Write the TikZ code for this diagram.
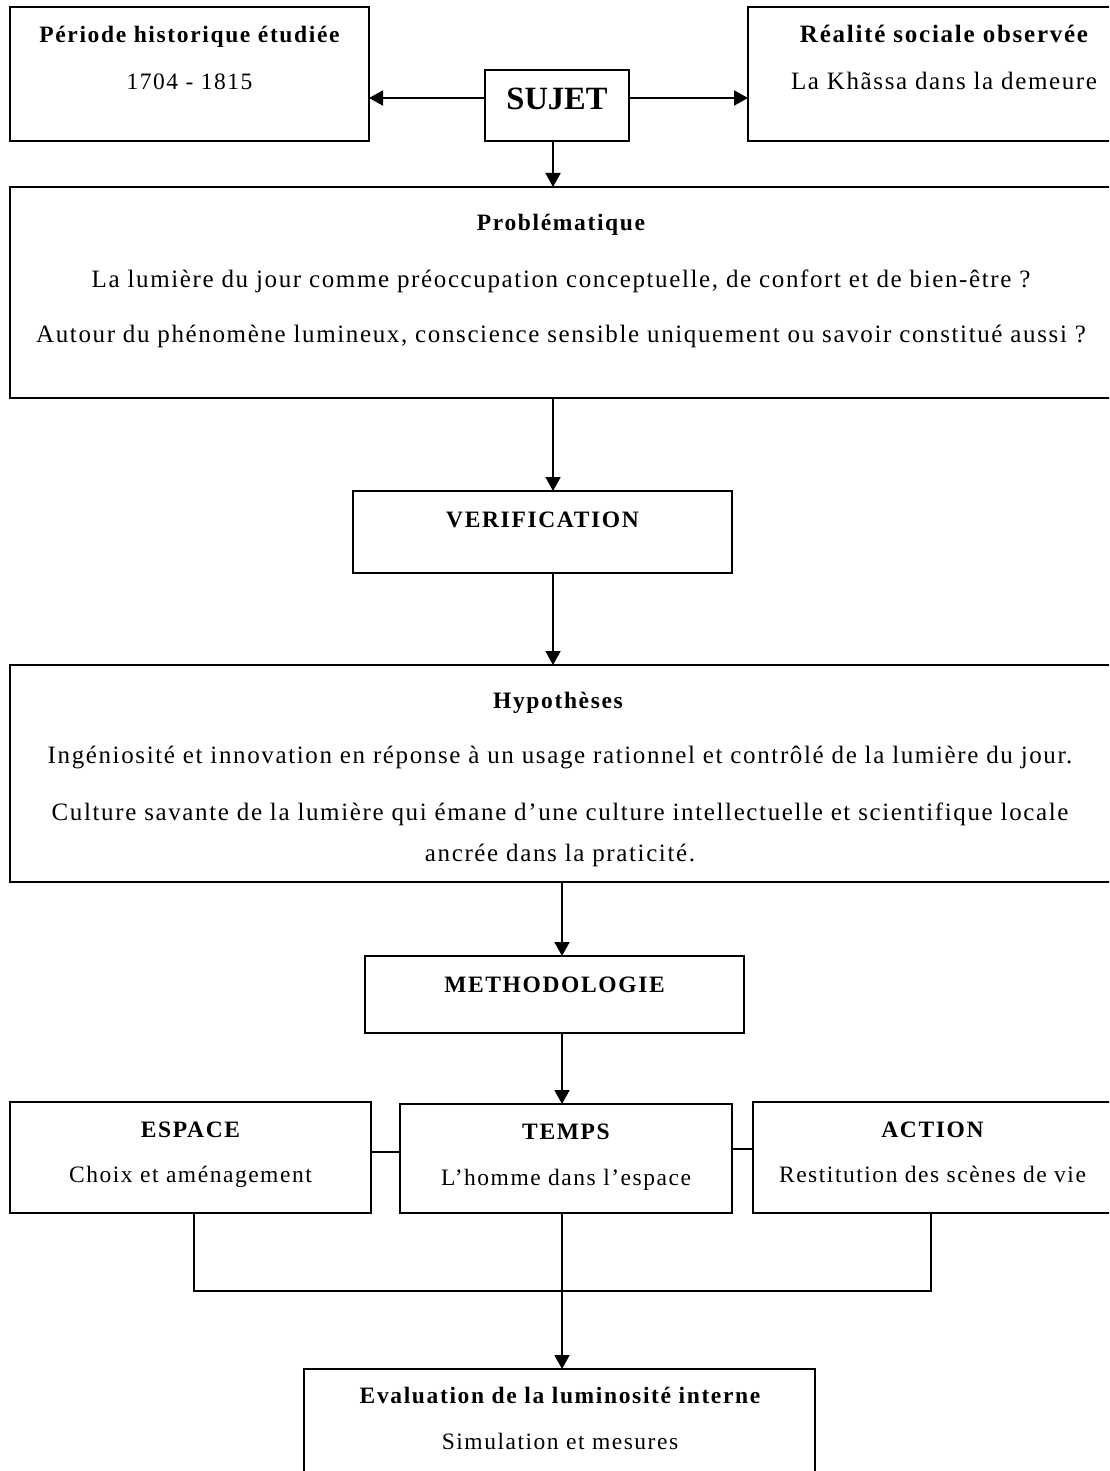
\documentclass[tikz,border=0pt]{standalone}
\usepackage{fontspec}
\setmainfont{Liberation Serif}[LetterSpace=6.5, BoldFeatures={LetterSpace=7}]
\newfontfamily\sujfont{Liberation Serif}
\usetikzlibrary{arrows.meta}
\tikzset{
  box/.style={draw, line width=1.9pt, inner sep=0pt, outer sep=0pt, rectangle},
  txt/.style={anchor=base, inner sep=0pt, font=\fontsize{23.5}{28}\selectfont},
  wide/.style={anchor=base, inner sep=0pt, font=\fontsize{25}{30}\selectfont},
  ttl/.style={anchor=base, inner sep=0pt, font=\fontsize{23.5}{28}\selectfont\bfseries},
  wttl/.style={anchor=base, inner sep=0pt, font=\fontsize{25}{30}\selectfont\bfseries},
  big/.style={anchor=base, inner sep=0pt, font=\sujfont\fontsize{32.5}{38}\selectfont\bfseries},
  arr/.style={line width=1.9pt, -{Triangle[length=14pt,width=15pt]}},
  lnk/.style={line width=1.7pt}
}
\begin{document}
\begin{tikzpicture}[x=1pt,y=-1pt]
\useasboundingbox (0,0) rectangle (1109,1471);
\fill[white] (0,0) rectangle (1109,1471);
\begin{scope}
\clip (0,0) rectangle (1109,1471);
% boxes
\node[box, minimum width=359pt, minimum height=134pt] (per) at (189.5,74) {};
\node[box, minimum width=392pt, minimum height=134pt] (rea) at (944,74) {};
\node[box, minimum width=144pt, minimum height=71pt] (suj) at (557,105.5) {};
\node[box, minimum width=1102pt, minimum height=211pt] (prob) at (561,292.5) {};
\node[box, minimum width=379pt, minimum height=82pt] (ver) at (542.5,532) {};
\node[box, minimum width=1102pt, minimum height=217pt] (hyp) at (561,773.5) {};
\node[box, minimum width=379pt, minimum height=77pt] (meth) at (554.5,994.5) {};
\node[box, minimum width=361pt, minimum height=111pt] (esp) at (190.5,1157.5) {};
\node[box, minimum width=332pt, minimum height=109pt] (tem) at (566,1158.5) {};
\node[box, minimum width=359pt, minimum height=111pt] (act) at (932.5,1157.5) {};
\node[box, minimum width=511pt, minimum height=131pt] (eva) at (559.5,1434.5) {};
% texts
\node[ttl] (perT) at (189.5,43) {Période historique étudiée};
\node[txt] (perS) at (189.5,90) {1704 - 1815};
\node[wttl] (reaT) at (944,43) {Réalité sociale observée};
\node[wide] (reaS) at (944,90) {La Khãssa dans la demeure};
\node[big] (sujT) at (557,110) {SUJET};
\node[ttl] (probT) at (561,231) {Problématique};
\node[wide] (probA) at (561,287) {La lumière du jour comme préoccupation conceptuelle, de confort et de bien-être ?};
\node[wide] (probB) at (561,342) {Autour du phénomène lumineux, conscience sensible uniquement ou savoir constitué aussi ?};
\node[ttl] (verT) at (542.5,527) {VERIFICATION};
\node[ttl] (hypT) at (558,708) {Hypothèses};
\node[wide] (hypA) at (560,763) {Ingéniosité et innovation en réponse à un usage rationnel et contrôlé de la lumière du jour.};
\node[wide] (hypB) at (560,820) {Culture savante de la lumière qui émane d’une culture intellectuelle et scientifique locale};
\node[wide] (hypC) at (560,861) {ancrée dans la praticité.};
\node[ttl] (methT) at (554.5,992) {METHODOLOGIE};
\node[ttl] (espT) at (190.5,1137) {ESPACE};
\node[txt] (espS) at (190.5,1182) {Choix et aménagement};
\node[ttl] (temT) at (566,1139) {TEMPS};
\node[txt] (temS) at (566,1185) {L’homme dans l’espace};
\node[ttl] (actT) at (932.5,1137) {ACTION};
\node[txt] (actS) at (932.5,1182) {Restitution des scènes de vie};
\node[ttl] (evaT) at (560,1403) {Evaluation de la luminosité interne};
\node[txt] (evaS) at (560,1449) {Simulation et mesures};
% connector guide coordinates
\coordinate (sy) at (0,98);
\coordinate (xa) at (553,0);
\coordinate (xb) at (562,0);
\coordinate (ly1) at (0,1152);
\coordinate (ly2) at (0,1149);
\coordinate (bl) at (194,1291);
\coordinate (br) at (931,1291);
% arrows
\draw[arr] (suj.west |- sy) -- (per.east |- sy);
\draw[arr] (suj.east |- sy) -- (rea.west |- sy);
\draw[arr] (xa |- suj.south) -- (xa |- prob.north);
\draw[arr] (xa |- prob.south) -- (xa |- ver.north);
\draw[arr] (xa |- ver.south) -- (xa |- hyp.north);
\draw[arr] (xb |- hyp.south) -- (xb |- meth.north);
\draw[arr] (xb |- meth.south) -- (xb |- tem.north);
\draw[arr] (xb |- tem.south) -- (xb |- eva.north);
% links
\draw[lnk] (esp.east |- ly1) -- (tem.west |- ly1);
\draw[lnk] (tem.east |- ly2) -- (act.west |- ly2);
\draw[lnk] (bl |- esp.south) -- (bl) -- (br) -- (br |- act.south);
\end{scope}
\end{tikzpicture}
\end{document}
